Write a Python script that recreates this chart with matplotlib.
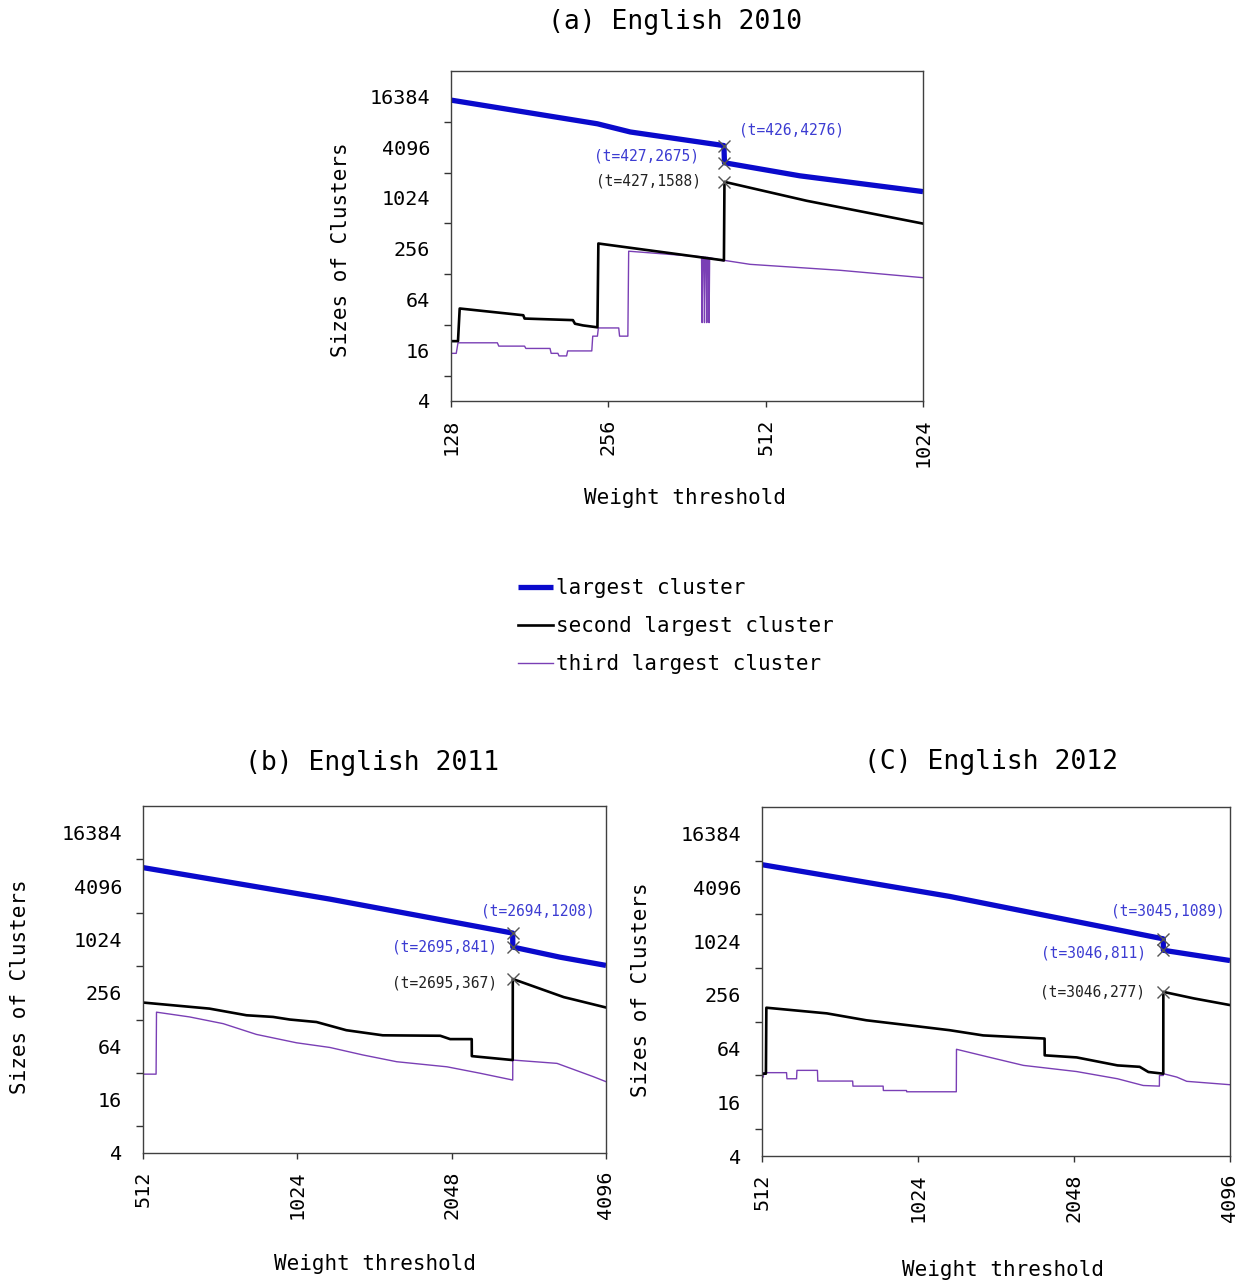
import matplotlib
matplotlib.use("Agg")
import matplotlib.pyplot as plt
from matplotlib.ticker import FixedLocator, NullLocator, NullFormatter, FixedFormatter

plt.rcParams['font.family'] = ['DejaVu Sans Mono']

# ---------------- data ----------------
# (a) English 2010
a_largest_t = [128, 244, 282, 426, 427, 595, 1024]
a_largest_s = [14800, 7750, 6200, 4276, 2675, 1873, 1217]
a_second_t = [128, 132, 133, 176, 177, 219, 221, 229, 244, 245, 426, 427, 613, 1024]
a_second_s = [20.5, 20.5, 50, 41.6, 38, 36.4, 33, 31.5, 29.9, 295, 186, 1588, 948, 508]
a_third_t = [128, 131, 132, 157, 158, 177, 178, 198, 199, 205, 206, 213, 214, 238, 239,
             244, 245, 268, 269, 279, 280, 386, 387, 388, 390, 391, 392, 394, 395, 396,
             398, 399, 400, 426, 427, 478, 710, 1024]
a_third_s = [14.7, 14.7, 19.6, 19.6, 17.9, 17.9, 16.8, 16.8, 14.7, 14.7, 13.7, 13.7, 15.7, 15.7, 23.5,
             23.5, 29.4, 29.4, 23.5, 23.5, 239, 205, 34, 204, 203, 34, 203, 202, 34, 202,
             201, 34, 200, 183, 186, 167, 142, 116]

# (b) English 2011
b_largest_t = [512, 1185, 2694, 2695, 3333, 4096]
b_largest_s = [6617, 2920, 1208, 841, 646, 522]
b_second_t = [512, 690, 815, 918, 990, 1116, 1276, 1503, 1946, 2034, 2241, 2242, 2694, 2695,
              3389, 3545, 4096]
b_second_s = [199, 170, 143, 137, 128, 120, 97, 85, 84, 77, 77, 49.5, 44.7, 367,
              229, 215, 175]
b_third_t = [512, 543, 544, 631, 734, 852, 1020, 1185, 1375, 1600, 2006, 2329, 2694, 2695,
             3287, 3871, 4096]
b_third_s = [31, 31, 155, 137, 115, 87, 70, 62, 51, 42.8, 37.5, 31.7, 26.6, 44.7,
             41, 29, 25.5]

# (c) English 2012
c_largest_t = [512, 1178, 3045, 3046, 4096]
c_largest_s = [7390, 3260, 1089, 811, 622]
c_second_t = [512, 521, 522, 683, 814, 1019, 1178, 1368, 1797, 1798, 2072, 2484, 2742, 2850,
              3045, 3046, 3488, 4096]
c_second_s = [33.5, 33.5, 184, 159, 133, 114, 103, 90, 83, 53.8, 51, 41.5, 40, 35,
              33.5, 277, 234, 197]
c_third_t = [512, 515, 516, 571, 572, 597, 598, 655, 656, 766, 767, 877, 878, 973, 974,
             1214, 1215, 1410, 1636, 2072, 2484, 2786, 2993, 2994, 3045, 3046, 3233, 3380, 4096]
c_third_s = [30.7, 30.7, 34.4, 34.4, 29.4, 29.4, 36.5, 36.5, 27.7, 27.7, 24.3, 24.3, 21.7, 21.7, 21,
             21, 62.9, 51, 41.5, 35.4, 29.4, 24.7, 24.3, 32, 32, 33.5, 30.7, 27.5, 25.2]

# annotated points: (t, size, kind)
a_marks = [(426, 4276, 'b'), (427, 2675, 'b'), (427, 1588, 'k')]
b_marks = [(2694, 1208, 'b'), (2695, 841, 'b'), (2695, 367, 'k')]
c_marks = [(3045, 1089, 'b'), (3046, 811, 'b'), (3046, 277, 'k')]

y_labels = [4, 16, 64, 256, 1024, 4096, 16384]
y_minor = [8, 32, 128, 512, 2048, 8192]
a_xticks = [128, 256, 512, 1024]
bc_xticks = [512, 1024, 2048, 4096]

series_labels = ['largest cluster', 'second largest cluster', 'third largest cluster']

# ---------------- style ----------------
BLUE = '#0a0acc'
BLACK = '#000000'
PURPLE = '#7a3fb5'
ANN_BLUE = '#3c3cd2'
ANN_BLACK = '#222222'
W, H = 1253, 1284

fig = plt.figure(figsize=(W / 100, H / 100), dpi=100)


def axes_px(l, t, r, b):
    return fig.add_axes([l / W, 1 - b / H, (r - l) / W, (b - t) / H])


def setup(ax, xticks):
    ax.set_xscale('log', base=2)
    ax.set_yscale('log', base=2)
    ax.set_xlim(xticks[0], xticks[-1])
    ax.set_ylim(4, 32768)
    ax.yaxis.set_major_locator(FixedLocator(y_labels))
    ax.yaxis.set_major_formatter(FixedFormatter([str(v) for v in y_labels]))
    ax.yaxis.set_minor_locator(FixedLocator(y_minor))
    ax.yaxis.set_minor_formatter(NullFormatter())
    ax.xaxis.set_major_locator(FixedLocator(xticks))
    ax.xaxis.set_major_formatter(FixedFormatter([str(v) for v in xticks]))
    ax.xaxis.set_minor_locator(NullLocator())
    ax.tick_params(axis='y', which='major', length=0, pad=15, labelsize=14.5)
    ax.tick_params(axis='y', which='minor', length=5, width=1, color='#333333')
    ax.tick_params(axis='x', which='major', length=4.5, width=1, pad=8,
                   labelsize=14.5, labelrotation=90, color='#333333')
    for sp in ax.spines.values():
        sp.set_color('#404040')
        sp.set_linewidth(1)


def draw(ax, l_t, l_s, s_t, s_s, t_t, t_s):
    h3, = ax.plot(t_t, t_s, color=PURPLE, lw=1.0)
    h2, = ax.plot(s_t, s_s, color=BLACK, lw=1.9)
    h1, = ax.plot(l_t, l_s, color=BLUE, lw=3.8, solid_capstyle='butt')
    return [h1, h2, h3]


def mark(ax, marks, offsets):
    for (t, s, kind), (dx, dy, ha) in zip(marks, offsets):
        ax.plot([t], [s], marker='x', ms=8, mew=1, color='#555555', zorder=5)
        ax.annotate(f'(t={t},{s})', xy=(t, s), xytext=(dx, dy), textcoords='offset pixels',
                    ha=ha, va='center', fontsize=10.5,
                    color=ANN_BLUE if kind == 'b' else ANN_BLACK)


# (a)
axa = axes_px(451, 71, 923, 401)
setup(axa, a_xticks)
handles = draw(axa, a_largest_t, a_largest_s, a_second_t, a_second_s, a_third_t, a_third_s)
mark(axa, a_marks, [(15, 16, 'left'), (-25, 7, 'right'), (-23, 1, 'right')])

# (b)
axb = axes_px(143, 806, 606, 1153)
setup(axb, bc_xticks)
draw(axb, b_largest_t, b_largest_s, b_second_t, b_second_s, b_third_t, b_third_s)
mark(axb, b_marks, [(-32, 22, 'left'), (-16, 0, 'right'), (-16, -4, 'right')])

# (c)
axc = axes_px(762, 807, 1230, 1156)
setup(axc, bc_xticks)
draw(axc, c_largest_t, c_largest_s, c_second_t, c_second_s, c_third_t, c_third_s)
mark(axc, c_marks, [(-52, 28, 'left'), (-17, -3, 'right'), (-18, 0, 'right')])

# texts
def ftext(x, y, s, **kw):
    fig.text(x / W, 1 - y / H, s, ha='center', va='center', **kw)

ftext(675, 22, '(a) English 2010', fontsize=19)
ftext(372, 763, '(b) English 2011', fontsize=19)
ftext(991, 762, '(C) English 2012', fontsize=19)
ftext(341, 250, 'Sizes of Clusters', fontsize=15, rotation=90)
ftext(20, 987, 'Sizes of Clusters', fontsize=15, rotation=90)
ftext(641, 990, 'Sizes of Clusters', fontsize=15, rotation=90)
ftext(685, 498, 'Weight threshold', fontsize=15)
ftext(375, 1264, 'Weight threshold', fontsize=15)
ftext(1003, 1270, 'Weight threshold', fontsize=15)

fig.legend(handles, series_labels, loc='upper left', bbox_to_anchor=(518 / W, 1 - 578 / H),
           frameon=False, fontsize=15, handlelength=1.7, handletextpad=0.12,
           borderpad=0, borderaxespad=0, labelspacing=0.86)

fig.savefig('out.png', dpi=100)
